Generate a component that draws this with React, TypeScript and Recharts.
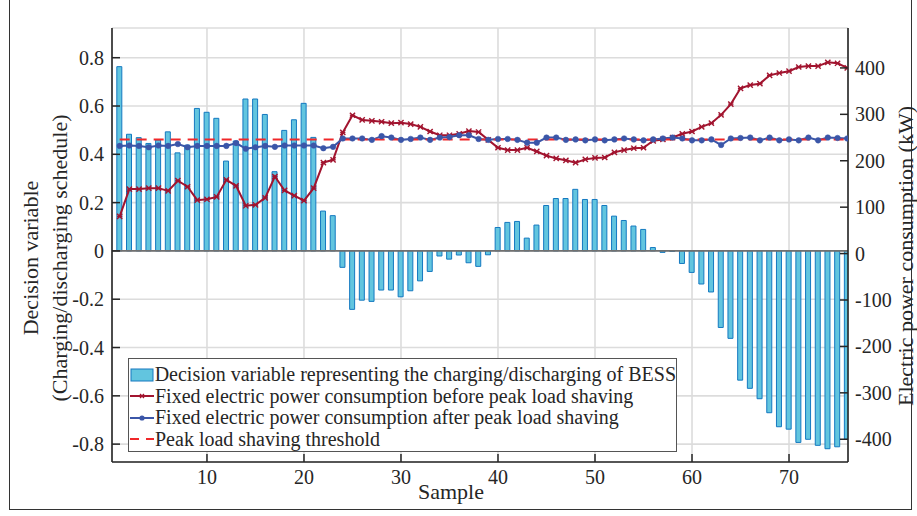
import React from 'react';
import { ComposedChart, Bar, Line, XAxis, YAxis, CartesianGrid, ReferenceLine } from 'recharts';

const samples = [
  1, 2, 3, 4, 5, 6, 7, 8, 9, 10, 11, 12, 13, 14, 15, 16, 17, 18, 19, 20,
  21, 22, 23, 24, 25, 26, 27, 28, 29, 30, 31, 32, 33, 34, 35, 36, 37, 38, 39, 40,
  41, 42, 43, 44, 45, 46, 47, 48, 49, 50, 51, 52, 53, 54, 55, 56, 57, 58, 59, 60,
  61, 62, 63, 64, 65, 66, 67, 68, 69, 70, 71, 72, 73, 74, 75, 76,
];

const bessDecision = [
  0.763, 0.483, 0.469, 0.445, 0.459, 0.493, 0.406, 0.438, 0.59, 0.574,
  0.549, 0.372, 0.455, 0.629, 0.629, 0.565, 0.328, 0.499, 0.543, 0.611,
  0.47, 0.165, 0.146, -0.068, -0.242, -0.204, -0.209, -0.162, -0.162, -0.19,
  -0.165, -0.124, -0.085, -0.021, -0.034, -0.017, -0.049, -0.064, -0.016, 0.097,
  0.118, 0.122, 0.053, 0.107, 0.188, 0.217, 0.217, 0.255, 0.213, 0.213,
  0.188, 0.144, 0.126, 0.103, 0.089, 0.014, -0.006, -0.002, -0.052, -0.089,
  -0.137, -0.17, -0.317, -0.362, -0.535, -0.569, -0.612, -0.67, -0.728, -0.738,
  -0.793, -0.78, -0.805, -0.819, -0.811, -0.78,
];

const powerBefore = [
  80, 139, 139, 141, 141, 135, 157, 144, 115, 117,
  122, 159, 146, 103, 105, 120, 166, 136, 125, 114,
  141, 196, 202, 261, 298, 288, 286, 284, 281, 282,
  279, 273, 263, 255, 255, 258, 264, 262, 245, 228,
  223, 223, 228, 220, 211, 205, 201, 196, 203, 206,
  207, 218, 223, 227, 228, 243, 246, 250, 258, 263,
  273, 281, 299, 322, 356, 363, 366, 384, 389, 393,
  402, 404, 404, 412, 410, 400,
];

const powerAfter = [
  232, 233, 232, 229, 233, 232, 236, 229, 232, 232,
  232, 232, 238, 226, 229, 232, 230, 233, 233, 233,
  233, 227, 230, 248, 248, 248, 245, 253, 250, 245,
  247, 250, 245, 250, 251, 255, 255, 247, 245, 247,
  247, 245, 239, 239, 250, 250, 245, 246, 244, 246,
  244, 246, 248, 246, 244, 246, 248, 250, 248, 244,
  244, 246, 234, 248, 249, 250, 244, 250, 244, 246,
  244, 250, 244, 250, 249, 248,
];

const peakThreshold = 246;

const xTicks = [10, 20, 30, 40, 50, 60, 70];
const leftTicks = [-0.8, -0.6, -0.4, -0.2, 0, 0.2, 0.4, 0.6, 0.8];
const rightTicks = [-400, -300, -200, -100, 0, 100, 200, 300, 400];

const legendLabels = [
  'Decision variable representing the charging/discharging of BESS',
  'Fixed electric power consumption before peak load shaving',
  'Fixed electric power consumption after peak load shaving',
  'Peak load shaving threshold',
];

const data = samples.map((s, i) => ({
  sample: s,
  bess: bessDecision[i],
  before: powerBefore[i],
  after: powerAfter[i],
  threshold: peakThreshold,
}));

const FONT = '"Liberation Serif", "Times New Roman", serif';
const TEXT = '#262626';
const AXIS = '#262626';
const BAR_FILL = '#62c5df';
const BAR_STROKE = '#1479c0';
const RED = '#a2142f';
const BLUE = '#3b56a8';
const THRESH = '#f0282a';
const TICK_LEN = 8;
const TICK_FONT = 20;

const LeftTick = (props: any) => {
  const { x, y, payload } = props;
  return (
    <g>
      <line x1={x} x2={x + TICK_LEN} y1={y} y2={y} stroke={AXIS} strokeWidth={1.5} />
      <text x={x - 8} y={y} dy="0.35em" textAnchor="end" fontSize={TICK_FONT} fontFamily={FONT} fill={TEXT}>
        {String(payload.value)}
      </text>
    </g>
  );
};

const RightTick = (props: any) => {
  const { x, y, payload } = props;
  return (
    <g>
      <line x1={x} x2={x - TICK_LEN} y1={y} y2={y} stroke={AXIS} strokeWidth={1.5} />
      <text x={x + 7} y={y} dy="0.35em" textAnchor="start" fontSize={TICK_FONT} fontFamily={FONT} fill={TEXT}>
        {String(payload.value)}
      </text>
    </g>
  );
};

const BottomTick = (props: any) => {
  const { x, y, payload } = props;
  return (
    <g>
      <line x1={x} x2={x} y1={y} y2={y - TICK_LEN} stroke={AXIS} strokeWidth={1.5} />
      <text x={x} y={y + 22} textAnchor="middle" fontSize={TICK_FONT} fontFamily={FONT} fill={TEXT}>
        {String(payload.value)}
      </text>
    </g>
  );
};

const StarDot = (props: any) => {
  const { cx, cy, index } = props;
  if (cx == null || cy == null) return <g key={`s${index}`} />;
  const r = 2.6;
  return (
    <g key={`s${index}`} stroke={RED} strokeWidth={1.4}>
      <line x1={cx - r} y1={cy - r} x2={cx + r} y2={cy + r} />
      <line x1={cx - r} y1={cy + r} x2={cx + r} y2={cy - r} />
      <line x1={cx - r} y1={cy} x2={cx + r} y2={cy} />
    </g>
  );
};

const LegendSwatch = ({ kind }: { kind: number }) => {
  if (kind === 0) {
    return (
      <svg width={24} height={14} style={{ display: 'block' }}>
        <rect x={1} y={1} width={22} height={12} fill={BAR_FILL} stroke={BAR_STROKE} strokeWidth={1} />
      </svg>
    );
  }
  if (kind === 1) {
    return (
      <svg width={24} height={14} style={{ display: 'block' }}>
        <line x1={0} x2={24} y1={7} y2={7} stroke={RED} strokeWidth={2} />
        <line x1={10} x2={14} y1={5} y2={9} stroke={RED} strokeWidth={1.3} />
        <line x1={10} x2={14} y1={9} y2={5} stroke={RED} strokeWidth={1.3} />
      </svg>
    );
  }
  if (kind === 2) {
    return (
      <svg width={24} height={14} style={{ display: 'block' }}>
        <line x1={0} x2={24} y1={7} y2={7} stroke={BLUE} strokeWidth={2} />
        <circle cx={12} cy={7} r={2.6} fill={BLUE} />
      </svg>
    );
  }
  return (
    <svg width={24} height={14} style={{ display: 'block' }}>
      <line x1={0} x2={9} y1={7} y2={7} stroke={THRESH} strokeWidth={2} />
      <line x1={16} x2={24} y1={7} y2={7} stroke={THRESH} strokeWidth={2} />
    </svg>
  );
};

export default function App() {
  return (
    <div style={{ position: 'absolute', left: 0, top: 0, width: 917, height: 516, background: '#fff', fontFamily: FONT }}>
      <div
        style={{
          position: 'absolute',
          left: 9,
          top: 0,
          width: 903,
          height: 510,
          borderLeft: '1px solid #333',
          borderRight: '1px solid #333',
          borderBottom: '1px solid #333',
          boxSizing: 'border-box',
        }}
      />
      <div style={{ position: 'absolute', left: 0, top: 0 }}>
        <ComposedChart width={917} height={516} data={data} margin={{ top: 28, right: 9, bottom: 14, left: 52 }}>
          <CartesianGrid yAxisId="left" stroke="#dcdcdc" strokeWidth={1.6} horizontal vertical />
          <XAxis
            dataKey="sample"
            type="number"
            domain={[0.21, 76.08]}
            allowDataOverflow
            ticks={xTicks}
            interval={0}
            height={40}
            tickSize={0}
            tickMargin={0}
            tickLine={false}
            axisLine={{ stroke: AXIS, strokeWidth: 1.6 }}
            tick={<BottomTick />}
          />
          <XAxis
            xAxisId="top"
            orientation="top"
            type="number"
            domain={[0.21, 76.08]}
            height={0}
            tick={false}
            tickLine={false}
            axisLine={{ stroke: AXIS, strokeWidth: 1.6 }}
          />
          <YAxis
            yAxisId="left"
            type="number"
            domain={[-0.874, 0.923]}
            allowDataOverflow
            ticks={leftTicks}
            interval={0}
            width={60}
            tickSize={0}
            tickMargin={0}
            tickLine={false}
            axisLine={{ stroke: AXIS, strokeWidth: 1.6 }}
            tick={<LeftTick />}
          />
          <YAxis
            yAxisId="right"
            orientation="right"
            type="number"
            domain={[-449, 486]}
            allowDataOverflow
            ticks={rightTicks}
            interval={0}
            width={60}
            tickSize={0}
            tickMargin={0}
            tickLine={false}
            axisLine={{ stroke: AXIS, strokeWidth: 1.6 }}
            tick={<RightTick />}
          />
          <Bar
            yAxisId="left"
            dataKey="bess"
            barSize={5}
            fill={BAR_FILL}
            stroke={BAR_STROKE}
            strokeWidth={1}
            isAnimationActive={false}
          />
          <ReferenceLine yAxisId="left" y={0} stroke="#707070" strokeWidth={1.6} />
          <Line
            yAxisId="right"
            dataKey="before"
            stroke={RED}
            strokeWidth={2}
            dot={<StarDot />}
            activeDot={false}
            isAnimationActive={false}
          />
          <Line
            yAxisId="right"
            dataKey="after"
            stroke={BLUE}
            strokeWidth={2}
            dot={{ r: 2.8, fill: BLUE, stroke: BLUE, strokeWidth: 0.5 }}
            activeDot={false}
            isAnimationActive={false}
          />
          <Line
            yAxisId="right"
            dataKey="threshold"
            stroke={THRESH}
            strokeWidth={2}
            strokeDasharray="10 7"
            dot={false}
            activeDot={false}
            isAnimationActive={false}
          />
        </ComposedChart>
      </div>
      <svg width={917} height={516} style={{ position: 'absolute', left: 0, top: 0, pointerEvents: 'none' }}>
        <text x={30} y={258} transform="rotate(-90 30 258)" textAnchor="middle" dominantBaseline="central" fontSize={22} fontFamily={FONT} fill={TEXT}>
          Decision variable
        </text>
        <text x={59} y={258} transform="rotate(-90 59 258)" textAnchor="middle" dominantBaseline="central" fontSize={22} fontFamily={FONT} fill={TEXT}>
          (Charging/discharging schedule)
        </text>
        <text x={905} y={256} transform="rotate(-90 905 256)" textAnchor="middle" dominantBaseline="central" fontSize={22} fontFamily={FONT} fill={TEXT}>
          Electric power consumption (kW)
        </text>
        <text x={451} y={499} textAnchor="middle" fontSize={22} fontFamily={FONT} fill={TEXT}>
          Sample
        </text>
      </svg>
      <div
        style={{
          position: 'absolute',
          left: 128,
          top: 358,
          width: 549,
          height: 94,
          background: '#fff',
          border: '1.5px solid #555',
          boxSizing: 'border-box',
          paddingTop: 5,
          paddingLeft: 1,
        }}
      >
        {legendLabels.map((label, i) => (
          <div key={label} style={{ display: 'flex', alignItems: 'center', height: 21.5 }}>
            <LegendSwatch kind={i} />
            <span style={{ fontSize: 20, color: TEXT, lineHeight: '21.5px', whiteSpace: 'nowrap', marginLeft: 1 }}>{label}</span>
          </div>
        ))}
      </div>
    </div>
  );
}
